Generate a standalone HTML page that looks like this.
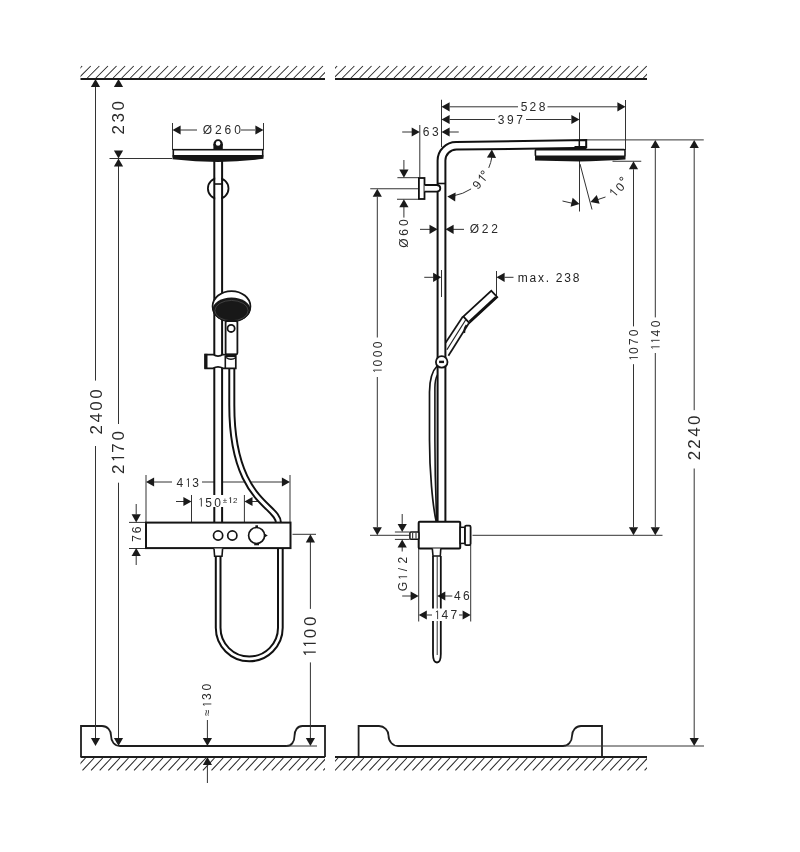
<!DOCTYPE html>
<html><head><meta charset="utf-8"><style>
html,body{margin:0;padding:0;background:#fff;}
svg{display:block;font-family:"Liberation Sans",sans-serif;will-change:transform;}
</style></head><body>
<svg width="800" height="852" viewBox="0 0 800 852">
<rect width="800" height="852" fill="#fff"/>
<clipPath id="c1"><rect x="80.5" y="65" width="244.5" height="14"/></clipPath>
<path d="M70.15,78 L82.15,66 M78.75,78 L90.75,66 M87.35,78 L99.35,66 M95.95,78 L107.95,66 M104.55,78 L116.55,66 M113.15,78 L125.15,66 M121.75,78 L133.75,66 M130.35,78 L142.35,66 M138.95,78 L150.95,66 M147.55,78 L159.55,66 M156.15,78 L168.15,66 M164.75,78 L176.75,66 M173.35,78 L185.35,66 M181.95,78 L193.95,66 M190.55,78 L202.55,66 M199.15,78 L211.15,66 M207.75,78 L219.75,66 M216.35,78 L228.35,66 M224.95,78 L236.95,66 M233.55,78 L245.55,66 M242.15,78 L254.15,66 M250.75,78 L262.75,66 M259.35,78 L271.35,66 M267.95,78 L279.95,66 M276.55,78 L288.55,66 M285.15,78 L297.15,66 M293.75,78 L305.75,66 M302.35,78 L314.35,66 M310.95,78 L322.95,66 M319.55,78 L331.55,66" stroke="#2a2a2a" stroke-width="1.05" clip-path="url(#c1)"/>
<clipPath id="c2"><rect x="335" y="65" width="312" height="14"/></clipPath>
<path d="M325.15,78 L337.15,66 M333.75,78 L345.75,66 M342.35,78 L354.35,66 M350.95,78 L362.95,66 M359.55,78 L371.55,66 M368.15,78 L380.15,66 M376.75,78 L388.75,66 M385.35,78 L397.35,66 M393.95,78 L405.95,66 M402.55,78 L414.55,66 M411.15,78 L423.15,66 M419.75,78 L431.75,66 M428.35,78 L440.35,66 M436.95,78 L448.95,66 M445.55,78 L457.55,66 M454.15,78 L466.15,66 M462.75,78 L474.75,66 M471.35,78 L483.35,66 M479.95,78 L491.95,66 M488.55,78 L500.55,66 M497.15,78 L509.15,66 M505.75,78 L517.75,66 M514.35,78 L526.35,66 M522.95,78 L534.95,66 M531.55,78 L543.55,66 M540.15,78 L552.15,66 M548.75,78 L560.75,66 M557.35,78 L569.35,66 M565.95,78 L577.95,66 M574.55,78 L586.55,66 M583.15,78 L595.15,66 M591.75,78 L603.75,66 M600.35,78 L612.35,66 M608.95,78 L620.95,66 M617.55,78 L629.55,66 M626.15,78 L638.15,66 M634.75,78 L646.75,66 M643.35,78 L655.35,66" stroke="#2a2a2a" stroke-width="1.05" clip-path="url(#c2)"/>
<line x1="80.5" y1="79" x2="325" y2="79" stroke="#1a1a1a" stroke-width="1.9"/>
<line x1="335" y1="79" x2="647" y2="79" stroke="#1a1a1a" stroke-width="1.9"/>
<clipPath id="f1"><rect x="80.5" y="757" width="244.5" height="14.399999999999977"/></clipPath>
<path d="M73.90,770.4 L85.50,758 M82.50,770.4 L94.10,758 M91.10,770.4 L102.70,758 M99.70,770.4 L111.30,758 M108.30,770.4 L119.90,758 M116.90,770.4 L128.50,758 M125.50,770.4 L137.10,758 M134.10,770.4 L145.70,758 M142.70,770.4 L154.30,758 M151.30,770.4 L162.90,758 M159.90,770.4 L171.50,758 M168.50,770.4 L180.10,758 M177.10,770.4 L188.70,758 M185.70,770.4 L197.30,758 M194.30,770.4 L205.90,758 M202.90,770.4 L214.50,758 M211.50,770.4 L223.10,758 M220.10,770.4 L231.70,758 M228.70,770.4 L240.30,758 M237.30,770.4 L248.90,758 M245.90,770.4 L257.50,758 M254.50,770.4 L266.10,758 M263.10,770.4 L274.70,758 M271.70,770.4 L283.30,758 M280.30,770.4 L291.90,758 M288.90,770.4 L300.50,758 M297.50,770.4 L309.10,758 M306.10,770.4 L317.70,758 M314.70,770.4 L326.30,758 M323.30,770.4 L334.90,758" stroke="#2a2a2a" stroke-width="1.05" clip-path="url(#f1)"/>
<clipPath id="f2"><rect x="335" y="757" width="312" height="14.399999999999977"/></clipPath>
<path d="M326.40,770.4 L338.00,758 M335.00,770.4 L346.60,758 M343.60,770.4 L355.20,758 M352.20,770.4 L363.80,758 M360.80,770.4 L372.40,758 M369.40,770.4 L381.00,758 M378.00,770.4 L389.60,758 M386.60,770.4 L398.20,758 M395.20,770.4 L406.80,758 M403.80,770.4 L415.40,758 M412.40,770.4 L424.00,758 M421.00,770.4 L432.60,758 M429.60,770.4 L441.20,758 M438.20,770.4 L449.80,758 M446.80,770.4 L458.40,758 M455.40,770.4 L467.00,758 M464.00,770.4 L475.60,758 M472.60,770.4 L484.20,758 M481.20,770.4 L492.80,758 M489.80,770.4 L501.40,758 M498.40,770.4 L510.00,758 M507.00,770.4 L518.60,758 M515.60,770.4 L527.20,758 M524.20,770.4 L535.80,758 M532.80,770.4 L544.40,758 M541.40,770.4 L553.00,758 M550.00,770.4 L561.60,758 M558.60,770.4 L570.20,758 M567.20,770.4 L578.80,758 M575.80,770.4 L587.40,758 M584.40,770.4 L596.00,758 M593.00,770.4 L604.60,758 M601.60,770.4 L613.20,758 M610.20,770.4 L621.80,758 M618.80,770.4 L630.40,758 M627.40,770.4 L639.00,758 M636.00,770.4 L647.60,758 M644.60,770.4 L656.20,758" stroke="#2a2a2a" stroke-width="1.05" clip-path="url(#f2)"/>
<line x1="80.5" y1="757" x2="325" y2="757" stroke="#1e1e1e" stroke-width="1.8"/>
<line x1="335" y1="757" x2="647" y2="757" stroke="#1e1e1e" stroke-width="1.8"/>
<path d="M81,757 V726 H102 C107.5,726 111,730.3 111,735.5 C111,741.5 114.5,746 120,746 H286.6 C291.5,746 294.5,741.7 294.5,736 C294.5,730.3 297.5,726 302.4,726 H325 V757" fill="none" stroke="#1e1e1e" stroke-width="1.8"/>
<path d="M358.6,757 V726 H379 C384.2,726 388.5,730.3 388.5,735.5 C388.5,741.5 392.8,746 398,746 H563 C568,746 572,741.7 572,736 C572,730.3 576,726 581,726 H602 V757" fill="none" stroke="#1e1e1e" stroke-width="1.8"/>
<line x1="95.5" y1="87" x2="95.5" y2="380.6" stroke="#333" stroke-width="1"/>
<line x1="95.5" y1="446" x2="95.5" y2="738" stroke="#333" stroke-width="1"/>
<path d="M95.50,79.00 L100.10,87.10 L90.90,87.10 Z" fill="#1a1a1a"/>
<path d="M95.50,746.00 L90.90,737.90 L100.10,737.90 Z" fill="#1a1a1a"/>
<text x="91.47" y="435.69" font-size="17" fill="#2a2a2a" transform="rotate(-90 96.20 429.83)">2</text>
<text x="91.53" y="423.80" font-size="17" fill="#2a2a2a" transform="rotate(-90 96.20 417.94)">4</text>
<text x="91.47" y="411.80" font-size="17" fill="#2a2a2a" transform="rotate(-90 96.20 405.93)">0</text>
<text x="91.47" y="399.85" font-size="17" fill="#2a2a2a" transform="rotate(-90 96.20 393.98)">0</text>
<line x1="118.5" y1="166" x2="118.5" y2="424" stroke="#333" stroke-width="1"/>
<line x1="118.5" y1="482.7" x2="118.5" y2="738" stroke="#333" stroke-width="1"/>
<path d="M118.50,158.50 L123.10,166.60 L113.90,166.60 Z" fill="#1a1a1a"/>
<path d="M118.50,746.00 L113.90,737.90 L123.10,737.90 Z" fill="#1a1a1a"/>
<text x="113.52" y="475.02" font-size="17" fill="#2a2a2a" transform="rotate(-90 118.25 469.15)">2</text>
<path d="M116.75,454.45 L119.19,452.77 V464.50" fill="none" stroke="#2a2a2a" stroke-width="1.22" transform="rotate(-90 118.25 458.63)"/>
<text x="113.52" y="453.97" font-size="17" fill="#2a2a2a" transform="rotate(-90 118.25 448.11)">7</text>
<text x="113.52" y="441.63" font-size="17" fill="#2a2a2a" transform="rotate(-90 118.25 435.77)">0</text>
<path d="M118.50,79.00 L123.10,87.10 L113.90,87.10 Z" fill="#1a1a1a"/>
<path d="M118.50,158.50 L113.90,150.40 L123.10,150.40 Z" fill="#1a1a1a"/>
<text x="113.67" y="135.63" font-size="17" fill="#2a2a2a" transform="rotate(-90 118.40 129.77)">2</text>
<text x="113.73" y="123.68" font-size="17" fill="#2a2a2a" transform="rotate(-90 118.40 117.82)">3</text>
<text x="113.67" y="111.62" font-size="17" fill="#2a2a2a" transform="rotate(-90 118.40 105.75)">0</text>
<line x1="109.5" y1="158.5" x2="172" y2="158.5" stroke="#333" stroke-width="1"/>
<line x1="172.5" y1="123" x2="172.5" y2="150" stroke="#333" stroke-width="1"/>
<line x1="263.5" y1="123" x2="263.5" y2="150" stroke="#333" stroke-width="1"/>
<path d="M172.50,130.00 L180.60,125.40 L180.60,134.60 Z" fill="#1a1a1a"/>
<path d="M263.50,130.00 L255.40,134.60 L255.40,125.40 Z" fill="#1a1a1a"/>
<line x1="180" y1="130" x2="197" y2="130" stroke="#333" stroke-width="1"/>
<line x1="241" y1="130" x2="255" y2="130" stroke="#333" stroke-width="1"/>
<text x="202.72" y="134.44" font-size="12" fill="#2a2a2a">Ø</text>
<text x="214.92" y="134.44" font-size="12" fill="#2a2a2a">2</text>
<text x="224.44" y="134.44" font-size="12" fill="#2a2a2a">6</text>
<text x="234.14" y="134.44" font-size="12" fill="#2a2a2a">0</text>
<line x1="146" y1="475" x2="146" y2="522" stroke="#333" stroke-width="1"/>
<line x1="290" y1="475" x2="290" y2="522" stroke="#333" stroke-width="1"/>
<path d="M146.00,482.00 L154.10,477.40 L154.10,486.60 Z" fill="#1a1a1a"/>
<path d="M290.00,482.00 L281.90,486.60 L281.90,477.40 Z" fill="#1a1a1a"/>
<line x1="154" y1="482" x2="172" y2="482" stroke="#333" stroke-width="1"/>
<line x1="202" y1="482" x2="282" y2="482" stroke="#333" stroke-width="1"/>
<text x="176.39" y="486.94" font-size="12" fill="#2a2a2a">4</text>
<path d="M186.75,479.85 L188.47,478.66 V486.94" fill="none" stroke="#2a2a2a" stroke-width="0.90"/>
<text x="192.32" y="486.94" font-size="12" fill="#2a2a2a">3</text>
<line x1="191.5" y1="495" x2="191.5" y2="522" stroke="#333" stroke-width="1"/>
<line x1="244.4" y1="495" x2="244.4" y2="522" stroke="#333" stroke-width="1"/>
<line x1="176" y1="501.5" x2="184" y2="501.5" stroke="#333" stroke-width="1"/>
<path d="M191.50,501.50 L183.40,506.10 L183.40,496.90 Z" fill="#1a1a1a"/>
<line x1="252" y1="501.5" x2="260" y2="501.5" stroke="#333" stroke-width="1"/>
<path d="M244.40,501.50 L252.50,496.90 L252.50,506.10 Z" fill="#1a1a1a"/>
<line x1="129" y1="522.4" x2="146" y2="522.4" stroke="#333" stroke-width="1"/>
<line x1="129" y1="548.5" x2="146" y2="548.5" stroke="#333" stroke-width="1"/>
<line x1="136.2" y1="504" x2="136.2" y2="514.4" stroke="#333" stroke-width="1"/>
<path d="M136.20,522.40 L131.60,514.30 L140.80,514.30 Z" fill="#1a1a1a"/>
<line x1="136.2" y1="556" x2="136.2" y2="565" stroke="#333" stroke-width="1"/>
<path d="M136.20,548.00 L140.80,556.10 L131.60,556.10 Z" fill="#1a1a1a"/>
<text x="133.56" y="542.59" font-size="12" fill="#2a2a2a" transform="rotate(-90 136.90 538.45)">7</text>
<text x="133.52" y="534.11" font-size="12" fill="#2a2a2a" transform="rotate(-90 136.90 529.97)">6</text>
<line x1="292.5" y1="534.3" x2="316" y2="534.3" stroke="#333" stroke-width="1"/>
<line x1="310.4" y1="542" x2="310.4" y2="608.9" stroke="#333" stroke-width="1"/>
<line x1="310.4" y1="662.4" x2="310.4" y2="738" stroke="#333" stroke-width="1"/>
<path d="M310.40,534.30 L315.00,542.40 L305.80,542.40 Z" fill="#1a1a1a"/>
<path d="M310.40,746.00 L305.80,737.90 L315.00,737.90 Z" fill="#1a1a1a"/>
<path d="M308.40,648.88 L310.84,647.19 V658.92" fill="none" stroke="#2a2a2a" stroke-width="1.22" transform="rotate(-90 309.90 653.06)"/>
<path d="M308.40,640.07 L310.84,638.38 V650.11" fill="none" stroke="#2a2a2a" stroke-width="1.22" transform="rotate(-90 309.90 644.25)"/>
<text x="305.17" y="639.48" font-size="17" fill="#2a2a2a" transform="rotate(-90 309.90 633.62)">0</text>
<text x="305.17" y="627.03" font-size="17" fill="#2a2a2a" transform="rotate(-90 309.90 621.16)">0</text>
<line x1="286" y1="746" x2="317" y2="746" stroke="#333" stroke-width="1"/>
<line x1="207.4" y1="720" x2="207.4" y2="738" stroke="#333" stroke-width="1"/>
<path d="M207.40,746.00 L202.80,737.90 L212.00,737.90 Z" fill="#1a1a1a"/>
<line x1="207.4" y1="765" x2="207.4" y2="783" stroke="#333" stroke-width="1"/>
<path d="M207.40,757.00 L212.00,765.10 L202.80,765.10 Z" fill="#1a1a1a"/>
<text x="203.91" y="716.82" font-size="12" fill="#2a2a2a" transform="rotate(-90 207.20 712.68)">≈</text>
<path d="M206.14,701.68 L207.86,700.49 V708.77" fill="none" stroke="#2a2a2a" stroke-width="0.90" transform="rotate(-90 207.20 704.63)"/>
<text x="203.90" y="700.72" font-size="12" fill="#2a2a2a" transform="rotate(-90 207.20 696.58)">3</text>
<text x="203.86" y="691.24" font-size="12" fill="#2a2a2a" transform="rotate(-90 207.20 687.10)">0</text>
<path d="M231.8,300 V405 C231.8,502 278.5,505 278.5,523 V526" fill="none" stroke="#111" stroke-width="7.0"/>
<path d="M231.8,300 V405 C231.8,502 278.5,505 278.5,523 V526" fill="none" stroke="#fff" stroke-width="3.1"/>
<rect x="214.3" y="158" width="7.8" height="364" fill="#fff"/>
<circle cx="218.2" cy="188.5" r="10.3" fill="none" stroke="#111" stroke-width="1.8"/>
<rect x="215.2" y="176" width="6" height="25" fill="#fff"/>
<line x1="214.3" y1="158" x2="214.3" y2="522.4" stroke="#111" stroke-width="2"/>
<line x1="222.1" y1="158" x2="222.1" y2="522.4" stroke="#111" stroke-width="2"/>
<line x1="214.3" y1="184" x2="222.1" y2="184" stroke="#111" stroke-width="1.6"/>
<path d="M172.5,155.2 H263.5 V158.8 Q240,161.8 218,161.9 Q196,161.8 172.5,159.2 Z" fill="#151515"/>
<rect x="173.3" y="149.7" width="89.4" height="6.1" fill="#fff" stroke="#151515" stroke-width="1.6"/>
<rect x="213.4" y="144" width="9.4" height="5.5" fill="#151515"/>
<circle cx="218.1" cy="144" r="4.7" fill="#151515"/>
<circle cx="218.1" cy="143.4" r="2.3" fill="#fff"/>
<ellipse cx="231.5" cy="306.35" rx="18.9" ry="15.3" fill="#fff" stroke="#151515" stroke-width="1.8"/>
<ellipse cx="231.5" cy="309.6" rx="18.9" ry="12.2" fill="#181818"/>
<ellipse cx="231.5" cy="310.6" rx="16.6" ry="10.2" fill="none" stroke="#5a5a5a" stroke-width="0.6"/>
<rect x="225.6" y="321" width="11.8" height="33.4" rx="1.5" fill="#fff" stroke="#151515" stroke-width="1.8"/>
<circle cx="231.1" cy="328.4" r="3.6" fill="#fff" stroke="#151515" stroke-width="1.8"/>
<path d="M205.2,354.6 H213 Q218,357.5 223,354.6 H235.8 V368.3 H223 Q218,365.5 213,368.3 H205.2 Z" fill="#fff" stroke="#151515" stroke-width="1.7"/>
<rect x="204.3" y="353.8" width="3.2" height="15" fill="#151515"/>
<path d="M225.3,355.5 V368" stroke="#151515" stroke-width="1.6"/>
<path d="M226,357.5 Q231,361 236,357.5" fill="none" stroke="#151515" stroke-width="1.5"/>
<path d="M225.5,356 H235.8" stroke="#151515" stroke-width="2.2" fill="none"/>
<rect x="146" y="522.6" width="144.5" height="25.5" fill="#fff" stroke="#151515" stroke-width="2"/>
<circle cx="218.1" cy="535.5" r="4.6" fill="none" stroke="#151515" stroke-width="1.7"/>
<circle cx="232.3" cy="535.5" r="4.6" fill="none" stroke="#151515" stroke-width="1.7"/>
<circle cx="256.6" cy="535.5" r="8" fill="none" stroke="#151515" stroke-width="1.7"/>
<rect x="255.4" y="525.3" width="2.6" height="2.4" fill="#151515"/>
<rect x="254.2" y="543.5" width="4.8" height="1.8" fill="#151515"/>
<path d="M264,533.3 L267.8,535.5 L264,537.7 Z" fill="#151515"/>
<path d="M214,548.5 L214.6,556.3 H222 L222.6,548.5" fill="#fff" stroke="#151515" stroke-width="1.6"/>
<path d="M215.8,556 V627.8 A33.45,33.45 0 0 0 282.7,627.8 V548" fill="none" stroke="#111" stroke-width="2"/>
<path d="M220.5,556 V627.8 A28.75,28.75 0 0 0 278,627.8 V548" fill="none" stroke="#111" stroke-width="2"/>
<rect x="197" y="495" width="42" height="12" fill="#fff"/>
<path d="M199.64,499.45 L201.36,498.26 V506.54" fill="none" stroke="#2a2a2a" stroke-width="0.90"/>
<text x="205.16" y="506.54" font-size="12" fill="#2a2a2a">5</text>
<text x="214.37" y="506.54" font-size="12" fill="#2a2a2a">0</text>
<text x="222.84" y="503.01" font-size="8" fill="#2a2a2a">±</text>
<path d="M229.43,498.28 L230.58,497.49 V503.01" fill="none" stroke="#2a2a2a" stroke-width="0.90"/>
<text x="233.12" y="503.01" font-size="8" fill="#2a2a2a">2</text>
<line x1="441.5" y1="99.75" x2="441.5" y2="147" stroke="#333" stroke-width="1"/>
<line x1="625.5" y1="100" x2="625.5" y2="150" stroke="#333" stroke-width="1"/>
<path d="M441.50,106.80 L449.60,102.20 L449.60,111.40 Z" fill="#1a1a1a"/>
<path d="M625.50,106.80 L617.40,111.40 L617.40,102.20 Z" fill="#1a1a1a"/>
<line x1="449.5" y1="106.8" x2="518" y2="106.8" stroke="#333" stroke-width="1"/>
<line x1="547.5" y1="106.8" x2="617.5" y2="106.8" stroke="#333" stroke-width="1"/>
<text x="520.85" y="110.54" font-size="12" fill="#2a2a2a">5</text>
<text x="529.62" y="110.54" font-size="12" fill="#2a2a2a">2</text>
<text x="538.84" y="110.54" font-size="12" fill="#2a2a2a">8</text>
<line x1="579.5" y1="112.5" x2="579.5" y2="211.5" stroke="#333" stroke-width="1"/>
<path d="M441.50,119.50 L449.60,114.90 L449.60,124.10 Z" fill="#1a1a1a"/>
<path d="M579.50,119.50 L571.40,124.10 L571.40,114.90 Z" fill="#1a1a1a"/>
<line x1="449.5" y1="119.5" x2="495" y2="119.5" stroke="#333" stroke-width="1"/>
<line x1="526" y1="119.5" x2="571.5" y2="119.5" stroke="#333" stroke-width="1"/>
<text x="497.87" y="123.64" font-size="12" fill="#2a2a2a">3</text>
<text x="506.98" y="123.64" font-size="12" fill="#2a2a2a">9</text>
<text x="516.31" y="123.64" font-size="12" fill="#2a2a2a">7</text>
<line x1="419.8" y1="125" x2="419.8" y2="177.4" stroke="#333" stroke-width="1"/>
<line x1="402.2" y1="132" x2="412" y2="132" stroke="#333" stroke-width="1"/>
<path d="M419.80,132.00 L411.70,136.60 L411.70,127.40 Z" fill="#1a1a1a"/>
<line x1="449" y1="132" x2="458.75" y2="132" stroke="#333" stroke-width="1"/>
<path d="M441.50,132.00 L449.60,127.40 L449.60,136.60 Z" fill="#1a1a1a"/>
<text x="422.67" y="136.14" font-size="12" fill="#2a2a2a">6</text>
<text x="432.00" y="136.14" font-size="12" fill="#2a2a2a">3</text>
<line x1="370.25" y1="188.75" x2="418" y2="188.75" stroke="#333" stroke-width="1"/>
<line x1="377.3" y1="196.75" x2="377.3" y2="337.5" stroke="#333" stroke-width="1"/>
<line x1="377.3" y1="377" x2="377.3" y2="527" stroke="#333" stroke-width="1"/>
<path d="M377.30,188.75 L381.90,196.85 L372.70,196.85 Z" fill="#1a1a1a"/>
<path d="M377.30,535.30 L372.70,527.20 L381.90,527.20 Z" fill="#1a1a1a"/>
<path d="M376.54,367.83 L378.26,366.64 V374.92" fill="none" stroke="#2a2a2a" stroke-width="0.90" transform="rotate(-90 377.60 370.78)"/>
<text x="374.26" y="367.19" font-size="12" fill="#2a2a2a" transform="rotate(-90 377.60 363.05)">0</text>
<text x="374.26" y="358.14" font-size="12" fill="#2a2a2a" transform="rotate(-90 377.60 354.00)">0</text>
<text x="374.26" y="349.09" font-size="12" fill="#2a2a2a" transform="rotate(-90 377.60 344.95)">0</text>
<line x1="370" y1="535.3" x2="409.6" y2="535.3" stroke="#333" stroke-width="1"/>
<line x1="397.4" y1="177.7" x2="418" y2="177.7" stroke="#333" stroke-width="1"/>
<line x1="397" y1="199.25" x2="418" y2="199.25" stroke="#333" stroke-width="1"/>
<line x1="403.9" y1="160" x2="403.9" y2="169.7" stroke="#333" stroke-width="1"/>
<path d="M403.90,177.70 L399.30,169.60 L408.50,169.60 Z" fill="#1a1a1a"/>
<line x1="403.9" y1="207" x2="403.9" y2="217.6" stroke="#333" stroke-width="1"/>
<path d="M403.90,199.25 L408.50,207.35 L399.30,207.35 Z" fill="#1a1a1a"/>
<text x="399.43" y="247.13" font-size="12" fill="#2a2a2a" transform="rotate(-90 404.10 242.99)">Ø</text>
<text x="400.72" y="236.43" font-size="12" fill="#2a2a2a" transform="rotate(-90 404.10 232.29)">6</text>
<text x="400.76" y="226.84" font-size="12" fill="#2a2a2a" transform="rotate(-90 404.10 222.70)">0</text>
<line x1="420" y1="229.35" x2="430" y2="229.35" stroke="#333" stroke-width="1"/>
<path d="M437.60,229.35 L429.50,233.95 L429.50,224.75 Z" fill="#1a1a1a"/>
<line x1="453" y1="229.35" x2="464" y2="229.35" stroke="#333" stroke-width="1"/>
<path d="M445.50,229.35 L453.60,224.75 L453.60,233.95 Z" fill="#1a1a1a"/>
<text x="469.87" y="233.49" font-size="12" fill="#2a2a2a">Ø</text>
<text x="481.85" y="233.49" font-size="12" fill="#2a2a2a">2</text>
<text x="491.30" y="233.49" font-size="12" fill="#2a2a2a">2</text>
<line x1="441.5" y1="270" x2="441.5" y2="297" stroke="#333" stroke-width="1"/>
<line x1="424.25" y1="277.3" x2="433.5" y2="277.3" stroke="#333" stroke-width="1"/>
<path d="M441.25,277.30 L433.15,281.90 L433.15,272.70 Z" fill="#1a1a1a"/>
<line x1="496.5" y1="271" x2="496.5" y2="297.5" stroke="#333" stroke-width="1"/>
<line x1="504.5" y1="277.3" x2="513.5" y2="277.3" stroke="#333" stroke-width="1"/>
<path d="M496.50,277.30 L504.60,272.70 L504.60,281.90 Z" fill="#1a1a1a"/>
<text x="517.75" y="281.7" font-size="12" fill="#222" letter-spacing="1.75">max. 238</text>
<path d="M453.66,195.79 A47,47 0 0 0 471.10,188.92" fill="none" stroke="#333" stroke-width="1"/>
<path d="M488.76,167.86 A47,47 0 0 0 491.92,156.85" fill="none" stroke="#333" stroke-width="1"/>
<path d="M447.30,196.60 L455.62,192.41 L455.16,201.60 Z" fill="#1a1a1a"/>
<path d="M491.90,149.60 L496.09,157.92 L486.90,157.46 Z" fill="#1a1a1a"/>
<text x="476.80" y="189.07" font-size="12" text-anchor="middle" fill="#222" transform="rotate(-50 476.8 184.7)">9</text>
<path d="M-1.8,-2.1 L0.6,-4.1 V4.1" transform="translate(482.1,178.4) rotate(-50)" fill="none" stroke="#2a2a2a" stroke-width="0.95"/>
<circle cx="482.6" cy="172.4" r="1.5" fill="none" stroke="#222" stroke-width="0.9"/>
<line x1="580" y1="164" x2="592" y2="209.5" stroke="#333" stroke-width="1"/>
<line x1="562.5" y1="201" x2="572" y2="203.2" stroke="#333" stroke-width="1"/>
<path d="M579.50,204.00 L570.58,206.67 L572.64,197.70 Z" fill="#1a1a1a"/>
<line x1="605.5" y1="197" x2="598" y2="199.5" stroke="#333" stroke-width="1"/>
<path d="M590.50,202.00 L596.75,195.09 L599.63,203.83 Z" fill="#1a1a1a"/>
<path d="M-1.8,-2.1 L0.6,-4.1 V4.1" transform="translate(613.6,192.8) rotate(-49)" fill="none" stroke="#2a2a2a" stroke-width="0.95"/>
<text x="619.90" y="191.17" font-size="12" text-anchor="middle" fill="#222" transform="rotate(-49 619.9 186.8)">0</text>
<circle cx="621.3" cy="178.75" r="1.5" fill="none" stroke="#222" stroke-width="0.9"/>
<line x1="612.5" y1="161.25" x2="641.25" y2="161.25" stroke="#333" stroke-width="1"/>
<line x1="633.5" y1="169.25" x2="633.5" y2="326.4" stroke="#333" stroke-width="1"/>
<line x1="633.5" y1="364.2" x2="633.5" y2="527.3" stroke="#333" stroke-width="1"/>
<path d="M633.50,161.25 L638.10,169.35 L628.90,169.35 Z" fill="#1a1a1a"/>
<path d="M633.50,535.30 L628.90,527.20 L638.10,527.20 Z" fill="#1a1a1a"/>
<path d="M632.69,355.26 L634.41,354.07 V362.35" fill="none" stroke="#2a2a2a" stroke-width="0.90" transform="rotate(-90 633.75 358.21)"/>
<text x="630.41" y="354.72" font-size="12" fill="#2a2a2a" transform="rotate(-90 633.75 350.58)">0</text>
<text x="630.41" y="345.88" font-size="12" fill="#2a2a2a" transform="rotate(-90 633.75 341.74)">7</text>
<text x="630.41" y="337.04" font-size="12" fill="#2a2a2a" transform="rotate(-90 633.75 332.90)">0</text>
<line x1="586" y1="139.9" x2="703.75" y2="139.9" stroke="#333" stroke-width="1"/>
<line x1="655.3" y1="147.9" x2="655.3" y2="317.4" stroke="#333" stroke-width="1"/>
<line x1="655.3" y1="353" x2="655.3" y2="527.3" stroke="#333" stroke-width="1"/>
<path d="M655.30,139.90 L659.90,148.00 L650.70,148.00 Z" fill="#1a1a1a"/>
<path d="M655.30,535.30 L650.70,527.20 L659.90,527.20 Z" fill="#1a1a1a"/>
<path d="M654.44,344.51 L656.16,343.32 V351.60" fill="none" stroke="#2a2a2a" stroke-width="0.90" transform="rotate(-90 655.50 347.46)"/>
<path d="M654.44,338.05 L656.16,336.86 V345.14" fill="none" stroke="#2a2a2a" stroke-width="0.90" transform="rotate(-90 655.50 341.00)"/>
<text x="652.20" y="337.29" font-size="12" fill="#2a2a2a" transform="rotate(-90 655.50 333.15)">4</text>
<text x="652.16" y="328.12" font-size="12" fill="#2a2a2a" transform="rotate(-90 655.50 323.98)">0</text>
<line x1="472.5" y1="535.3" x2="662.5" y2="535.3" stroke="#333" stroke-width="1"/>
<line x1="694.2" y1="147.9" x2="694.2" y2="410.2" stroke="#333" stroke-width="1"/>
<line x1="694.2" y1="468.5" x2="694.2" y2="738" stroke="#333" stroke-width="1"/>
<path d="M694.20,139.90 L698.80,148.00 L689.60,148.00 Z" fill="#1a1a1a"/>
<path d="M694.20,746.00 L689.60,737.90 L698.80,737.90 Z" fill="#1a1a1a"/>
<text x="689.62" y="461.47" font-size="17" fill="#2a2a2a" transform="rotate(-90 694.35 455.61)">2</text>
<text x="689.62" y="449.84" font-size="17" fill="#2a2a2a" transform="rotate(-90 694.35 443.97)">2</text>
<text x="689.68" y="438.03" font-size="17" fill="#2a2a2a" transform="rotate(-90 694.35 432.17)">4</text>
<text x="689.62" y="426.12" font-size="17" fill="#2a2a2a" transform="rotate(-90 694.35 420.25)">0</text>
<line x1="565" y1="746" x2="704" y2="746" stroke="#333" stroke-width="1"/>
<line x1="418.7" y1="548" x2="418.7" y2="621.5" stroke="#333" stroke-width="1"/>
<line x1="470.7" y1="545" x2="470.7" y2="621.5" stroke="#333" stroke-width="1"/>
<line x1="402.2" y1="596" x2="411" y2="596" stroke="#333" stroke-width="1"/>
<path d="M418.70,596.00 L410.60,600.60 L410.60,591.40 Z" fill="#1a1a1a"/>
<line x1="444.5" y1="596" x2="452.3" y2="596" stroke="#333" stroke-width="1"/>
<path d="M437.20,596.00 L445.30,591.40 L445.30,600.60 Z" fill="#1a1a1a"/>
<text x="454.06" y="600.14" font-size="12" fill="#2a2a2a">4</text>
<text x="463.08" y="600.14" font-size="12" fill="#2a2a2a">6</text>
<path d="M418.70,615.00 L426.80,610.40 L426.80,619.60 Z" fill="#1a1a1a"/>
<path d="M470.70,615.00 L462.60,619.60 L462.60,610.40 Z" fill="#1a1a1a"/>
<line x1="426.7" y1="615" x2="432" y2="615" stroke="#333" stroke-width="1"/>
<line x1="459" y1="615" x2="462.7" y2="615" stroke="#333" stroke-width="1"/>
<path d="M435.87,612.05 L437.60,610.86 V619.14" fill="none" stroke="#2a2a2a" stroke-width="0.90"/>
<text x="441.45" y="619.14" font-size="12" fill="#2a2a2a">4</text>
<text x="450.48" y="619.14" font-size="12" fill="#2a2a2a">7</text>
<line x1="394.9" y1="532" x2="409.6" y2="532" stroke="#333" stroke-width="1"/>
<line x1="394.9" y1="539.4" x2="409.6" y2="539.4" stroke="#333" stroke-width="1"/>
<line x1="402.2" y1="514" x2="402.2" y2="524" stroke="#333" stroke-width="1"/>
<path d="M402.20,532.00 L397.60,523.90 L406.80,523.90 Z" fill="#1a1a1a"/>
<line x1="402.2" y1="547" x2="402.2" y2="551.5" stroke="#333" stroke-width="1"/>
<path d="M402.20,539.40 L406.80,547.50 L397.60,547.50 Z" fill="#1a1a1a"/>
<text x="398.48" y="590.94" font-size="12" fill="#2a2a2a" transform="rotate(-90 403.00 586.80)">G</text>
<path d="M401.94,574.46 L403.66,573.27 V581.55" fill="none" stroke="#2a2a2a" stroke-width="0.90" transform="rotate(-90 403.00 577.41)"/>
<text x="401.33" y="573.64" font-size="12" fill="#2a2a2a" transform="rotate(-90 403.00 569.50)">/</text>
<text x="399.66" y="564.30" font-size="12" fill="#2a2a2a" transform="rotate(-90 403.00 560.16)">2</text>
<path d="M437.5,365.5 C432,371 429.5,380 429.5,392 V440 C429.5,470 432.5,505 436.3,522" fill="none" stroke="#151515" stroke-width="1.7"/>
<path d="M437.5,374.8 C435.6,378 434.9,381 434.9,388 V440 C434.9,470 436,505 436.8,522" fill="none" stroke="#151515" stroke-width="1.6"/>
<path d="M437.6,522 V160.5 A18.5,18.5 0 0 1 456.1,142 L586.2,139.9 V147.9" fill="none" stroke="#111" stroke-width="2"/>
<path d="M445.4,522 V160.6 A11,11 0 0 1 456.4,149.6 L575,148" fill="none" stroke="#111" stroke-width="2"/>
<path d="M579.3,140 V147" fill="none" stroke="#111" stroke-width="1.5"/>
<rect x="574.5" y="146" width="12" height="4" fill="#111"/>
<path d="M535,155.5 H625.5 V159.6 Q600,161.4 580,161.4 Q556,161.4 535,160.6 Z" fill="#151515"/>
<rect x="535.4" y="149.6" width="89.6" height="6.6" rx="1" fill="#fff" stroke="#151515" stroke-width="1.6"/>
<rect x="418.9" y="178" width="5.6" height="21" fill="#fff" stroke="#111" stroke-width="1.8"/>
<path d="M424.5,185 H437 Q440.3,185.5 440.3,188.3 Q440.3,191.3 437,191.6 H424.5" fill="#fff" stroke="#111" stroke-width="1.8"/>
<line x1="437.6" y1="183.5" x2="445.5" y2="183.5" stroke="#111" stroke-width="1.6"/>
<g transform="translate(480.3,306.8) rotate(-42.7)"><rect x="-19" y="-4.4" width="38" height="8.8" fill="#fff" stroke="#111" stroke-width="1.8"/><line x1="-18" y1="3.5" x2="18" y2="3.5" stroke="#111" stroke-width="2.2"/></g>
<path d="M462.9,316.5 L445.6,342.8" stroke="#151515" stroke-width="1.7"/>
<path d="M465.9,319.5 L446.9,349.8" stroke="#222" stroke-width="1.2"/>
<path d="M468.8,323.2 L448.4,355.8" stroke="#151515" stroke-width="1.7"/>
<path d="M466.5,325 Q463.5,329 464.5,333" fill="none" stroke="#151515" stroke-width="1.6"/>
<circle cx="441.7" cy="361.9" r="5.8" fill="#fff" stroke="#151515" stroke-width="1.8"/>
<rect x="439.1" y="360.7" width="4.9" height="2.4" fill="#151515"/>
<rect x="418.7" y="521.7" width="41.5" height="26.7" rx="1" fill="#fff" stroke="#111" stroke-width="2"/>
<rect x="460.2" y="527.3" width="4.6" height="16.1" fill="#fff" stroke="#151515" stroke-width="1.5"/>
<rect x="465" y="525.6" width="5.6" height="19.5" rx="1.3" fill="#fff" stroke="#151515" stroke-width="1.8"/>
<rect x="409.9" y="532" width="9" height="7.2" rx="1" fill="#fff" stroke="#151515" stroke-width="1.5"/>
<rect x="412" y="532.5" width="1.2" height="6.2" fill="#444"/>
<rect x="415.4" y="532.5" width="1.2" height="6.2" fill="#444"/>
<path d="M432.3,548.4 L433,556 H440.3 L440.8,548.4" fill="#fff" stroke="#151515" stroke-width="1.6"/>
<path d="M433,556 V608.5 M433,621 V654 Q433,662.5 437,662.5 Q440.8,662.5 440.8,654 V621 M440.8,608.5 V556" fill="none" stroke="#111" stroke-width="1.8"/>
<path d="M437.2,556 V608.5 M437.2,621 V655" fill="none" stroke="#333" stroke-width="1"/>
</svg></body></html>
